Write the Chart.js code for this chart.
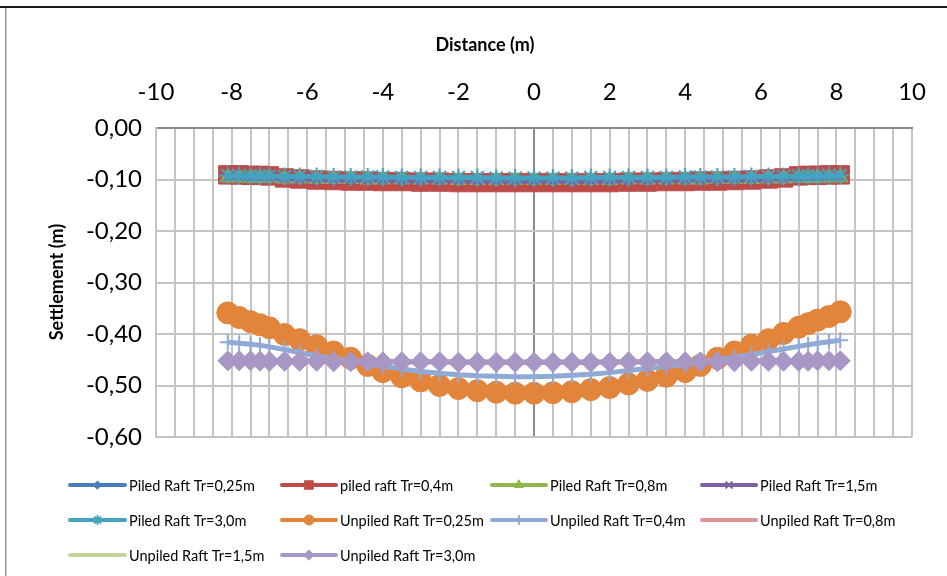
<!DOCTYPE html>
<html>
<head>
<meta charset="utf-8">
<title>Settlement profile</title>
<script src="https://cdn.jsdelivr.net/npm/chart.js@4.4.1/dist/chart.umd.min.js"></script>
<style>
  html, body { margin: 0; padding: 0; background: #ffffff; }
  canvas { display: block; }
</style>
</head>
<body>
<canvas id="chart" width="947" height="576"></canvas>
<script>
// Distance along the raft section (m)
const distances = [-8.1, -7.8, -7.5, -7.25, -7.0, -6.6, -6.2, -5.75, -5.3, -4.85, -4.4, -4.0, -3.5, -3.0, -2.5, -2.0, -1.5, -1.0, -0.5, 0,
                   0.5, 1.0, 1.5, 2.0, 2.5, 3.0, 3.5, 4.0, 4.4, 4.85, 5.3, 5.75, 6.2, 6.6, 7.0, 7.25, 7.5, 7.8, 8.1];

// Settlement (m) – piled rafts
const piledTr025 = [-0.094,-0.095,-0.095,-0.096,-0.097,-0.100,-0.103,-0.105,-0.107,-0.108,-0.108,-0.109,-0.109,-0.110,-0.110,-0.110,-0.111,-0.111,-0.111,-0.111,
                    -0.111,-0.111,-0.111,-0.110,-0.110,-0.110,-0.109,-0.109,-0.108,-0.108,-0.107,-0.105,-0.103,-0.100,-0.097,-0.096,-0.095,-0.095,-0.094];
const piledTr04  = [-0.091,-0.091,-0.092,-0.092,-0.093,-0.097,-0.099,-0.101,-0.102,-0.103,-0.103,-0.104,-0.104,-0.105,-0.105,-0.106,-0.106,-0.106,-0.106,-0.106,
                    -0.106,-0.106,-0.106,-0.106,-0.105,-0.105,-0.104,-0.104,-0.103,-0.103,-0.102,-0.101,-0.099,-0.097,-0.093,-0.092,-0.092,-0.091,-0.091];
const piledTr08  = [-0.096,-0.096,-0.097,-0.097,-0.097,-0.098,-0.098,-0.099,-0.099,-0.099,-0.100,-0.100,-0.100,-0.100,-0.100,-0.101,-0.101,-0.101,-0.101,-0.101,
                    -0.101,-0.101,-0.101,-0.101,-0.100,-0.100,-0.100,-0.100,-0.100,-0.099,-0.099,-0.099,-0.098,-0.098,-0.097,-0.097,-0.097,-0.096,-0.096];
const piledTr15  = [-0.095,-0.095,-0.096,-0.096,-0.097,-0.098,-0.099,-0.100,-0.100,-0.101,-0.101,-0.101,-0.102,-0.102,-0.102,-0.102,-0.103,-0.103,-0.103,-0.103,
                    -0.103,-0.103,-0.103,-0.102,-0.102,-0.102,-0.102,-0.101,-0.101,-0.101,-0.100,-0.100,-0.099,-0.098,-0.097,-0.096,-0.096,-0.095,-0.095];
const piledTr30  = [-0.092,-0.092,-0.093,-0.093,-0.093,-0.094,-0.094,-0.094,-0.095,-0.095,-0.095,-0.095,-0.096,-0.096,-0.096,-0.096,-0.096,-0.097,-0.097,-0.097,
                    -0.097,-0.097,-0.096,-0.096,-0.096,-0.096,-0.096,-0.095,-0.095,-0.095,-0.095,-0.094,-0.094,-0.094,-0.093,-0.093,-0.093,-0.092,-0.092];

// Settlement (m) – unpiled rafts
const unpiledTr025 = [-0.359,-0.368,-0.376,-0.382,-0.388,-0.401,-0.411,-0.423,-0.435,-0.447,-0.461,-0.473,-0.483,-0.491,-0.500,-0.506,-0.510,-0.513,-0.515,-0.515,
                      -0.514,-0.512,-0.508,-0.504,-0.497,-0.490,-0.482,-0.473,-0.461,-0.447,-0.435,-0.422,-0.411,-0.399,-0.387,-0.380,-0.373,-0.366,-0.357];
const unpiledTr04  = [-0.416,-0.418,-0.420,-0.422,-0.425,-0.430,-0.436,-0.442,-0.448,-0.453,-0.458,-0.462,-0.468,-0.473,-0.476,-0.479,-0.481,-0.482,-0.483,-0.483,
                      -0.482,-0.480,-0.478,-0.475,-0.471,-0.467,-0.463,-0.459,-0.455,-0.450,-0.445,-0.440,-0.434,-0.429,-0.424,-0.421,-0.418,-0.415,-0.412];
const unpiledTr08  = [-0.450,-0.450,-0.451,-0.451,-0.451,-0.452,-0.452,-0.452,-0.453,-0.453,-0.453,-0.453,-0.454,-0.454,-0.454,-0.454,-0.454,-0.455,-0.455,-0.455,
                      -0.455,-0.455,-0.454,-0.454,-0.454,-0.454,-0.454,-0.453,-0.453,-0.453,-0.453,-0.452,-0.452,-0.452,-0.451,-0.451,-0.451,-0.450,-0.450];
const unpiledTr15  = [-0.451,-0.451,-0.451,-0.452,-0.452,-0.452,-0.452,-0.453,-0.453,-0.453,-0.453,-0.453,-0.454,-0.454,-0.454,-0.454,-0.454,-0.454,-0.454,-0.454,
                      -0.454,-0.454,-0.454,-0.454,-0.454,-0.454,-0.454,-0.453,-0.453,-0.453,-0.453,-0.453,-0.452,-0.452,-0.452,-0.452,-0.451,-0.451,-0.451];
const unpiledTr30  = [-0.452,-0.452,-0.452,-0.453,-0.453,-0.453,-0.453,-0.453,-0.454,-0.454,-0.454,-0.454,-0.454,-0.454,-0.454,-0.455,-0.455,-0.455,-0.455,-0.455,
                      -0.455,-0.455,-0.455,-0.455,-0.454,-0.454,-0.454,-0.454,-0.454,-0.454,-0.454,-0.453,-0.453,-0.453,-0.453,-0.453,-0.452,-0.452,-0.452];

const seriesNames = [
  'Piled Raft Tr=0,25m', 'piled raft Tr=0,4m', 'Piled Raft Tr=0,8m', 'Piled Raft Tr=1,5m',
  'Piled Raft Tr=3,0m', 'Unpiled Raft Tr=0,25m', 'Unpiled Raft Tr=0,4m', 'Unpiled Raft Tr=0,8m',
  'Unpiled Raft Tr=1,5m', 'Unpiled Raft Tr=3,0m'
];
const seriesValues = [piledTr025, piledTr04, piledTr08, piledTr15, piledTr30,
                      unpiledTr025, unpiledTr04, unpiledTr08, unpiledTr15, unpiledTr30];

const xTitle = 'Distance (m)';
const yTitle = 'Settlement (m)';

// Line colour, marker shape, marker radius, marker stroke, legend marker radius
const styles = [
  { color: '#4A7EBB', point: 'rectRot',  r: 6,  bw: 1, lr: 4 },
  { color: '#BE4B48', point: 'rect',     r: 13, bw: 1, lr: 6 },
  { color: '#8FB64B', point: 'triangle', r: 9,  bw: 1, lr: 5 },
  { color: '#7D60A0', point: 'crossRot', r: 6,  bw: 2, lr: 4 },
  { color: '#42A4C0', point: 'star',     r: 9,  bw: 2, lr: 4 },
  { color: '#E2843A', point: 'circle',   r: 11, bw: 1, lr: 5 },
  { color: '#8FAAD6', point: 'cross',    r: 8,  bw: 2, lr: 4 },
  { color: '#D99694', point: false,      r: 0,  bw: 0, lr: 0 },
  { color: '#C0D69A', point: false,      r: 0,  bw: 0, lr: 0 },
  { color: '#A896C4', point: 'rectRot',  r: 10, bw: 1, lr: 5 }
];

const datasets = seriesNames.map((name, i) => {
  const s = styles[i];
  return {
    label: name,
    data: distances.map((d, k) => ({ x: d, y: seriesValues[i][k] })),
    showLine: true,
    borderColor: s.color,
    backgroundColor: s.color,
    borderWidth: 5,
    pointStyle: s.point || 'circle',
    pointRadius: s.point ? s.r : 0,
    pointHoverRadius: s.point ? s.r : 0,
    pointBorderWidth: s.bw,
    pointBorderColor: s.color,
    pointBackgroundColor: s.color,
    tension: 0,
    order: seriesNames.length - i
  };
});

const font = 'Lato, "Open Sans", "Liberation Sans", sans-serif';

// Legend laid out in four columns beneath the plot
const legendRows = [485, 520, 555];
const legendCols = [{ x0: 70, x1: 125, tx: 129 }, { x0: 282, x1: 336, tx: 340 },
                    { x0: 492, x1: 546, tx: 550 }, { x0: 702, x1: 756, tx: 760 }];

const decorations = {
  id: 'decorations',
  beforeDraw(chart) {
    const ctx = chart.ctx;
    ctx.save();
    ctx.fillStyle = '#ffffff';
    ctx.fillRect(0, 0, chart.width, chart.height);
    ctx.restore();
  },
  afterDraw(chart) {
    const ctx = chart.ctx;
    ctx.save();
    // outer frame
    ctx.fillStyle = '#1a1a1a';
    ctx.fillRect(0, 6, chart.width, 2);
    ctx.fillStyle = '#9a9a9a';
    ctx.fillRect(5, 8, 1.5, chart.height - 8);

    // axis titles
    ctx.fillStyle = '#000000';
    ctx.font = 'bold 18px ' + font;
    ctx.textAlign = 'center';
    ctx.textBaseline = 'middle';
    ctx.fillText(xTitle, 485, 45);
    ctx.save();
    ctx.translate(57, 282);
    ctx.rotate(-Math.PI / 2);
    ctx.fillText(yTitle, 0, 0);
    ctx.restore();

    // legend
    ctx.font = '14.5px ' + font;
    ctx.textAlign = 'left';
    seriesNames.forEach((name, i) => {
      const s = styles[i];
      const row = Math.floor(i / 4), col = i % 4;
      const y = legendRows[row];
      const c = legendCols[col];
      ctx.strokeStyle = s.color;
      ctx.lineWidth = 4;
      ctx.lineCap = 'round';
      ctx.beginPath();
      ctx.moveTo(c.x0, y);
      ctx.lineTo(c.x1, y);
      ctx.stroke();
      if (s.point && Chart.helpers && Chart.helpers.drawPoint) {
        ctx.fillStyle = s.color;
        ctx.strokeStyle = s.color;
        ctx.lineWidth = s.bw;
        Chart.helpers.drawPoint(ctx, { pointStyle: s.point, radius: s.lr, rotation: 0, borderWidth: s.bw }, (c.x0 + c.x1) / 2, y);
      }
      ctx.fillStyle = '#000000';
      ctx.fillText(name, c.tx, y + 1);
    });
    ctx.restore();
  }
};

new Chart(document.getElementById('chart'), {
  type: 'scatter',
  data: { datasets },
  plugins: [decorations],
  options: {
    responsive: false,
    animation: false,
    devicePixelRatio: 1,
    layout: { padding: { left: 0, top: 0, right: 28, bottom: 139 } },
    plugins: { legend: { display: false }, tooltip: { enabled: false } },
    scales: {
      x: {
        type: 'linear',
        position: 'top',
        min: -10,
        max: 10,
        afterFit(scale) { scale.height = 128; },
        ticks: {
          stepSize: 0.5,
          autoSkip: false,
          maxRotation: 0,
          padding: 21,
          color: '#000000',
          font: { family: font, size: 24 },
          callback: (v) => (Math.abs(v % 2) < 1e-9 ? String(v) : '')
        },
        grid: {
          drawTicks: false,
          lineWidth: 2,
          color: (ctx) => (ctx.tick && ctx.tick.value === 0 ? '#8a8a8a' : '#c4c4c4')
        },
        border: { display: true, color: '#8a8a8a', width: 2 }
      },
      y: {
        type: 'linear',
        position: 'left',
        min: -0.6,
        max: 0,
        afterFit(scale) { scale.width = 156; },
        ticks: {
          stepSize: 0.1,
          padding: 14,
          color: '#000000',
          font: { family: font, size: 24 },
          callback: (v) => (Math.abs(v) < 1e-9 ? 0 : v).toFixed(2).replace('.', ',')
        },
        grid: {
          drawTicks: false,
          lineWidth: 2,
          color: (ctx) => (ctx.tick && Math.abs(ctx.tick.value) < 1e-9 ? '#8a8a8a' : '#c4c4c4')
        },
        border: { display: true, color: '#c4c4c4', width: 2 }
      }
    }
  }
});
</script>
</body>
</html>
